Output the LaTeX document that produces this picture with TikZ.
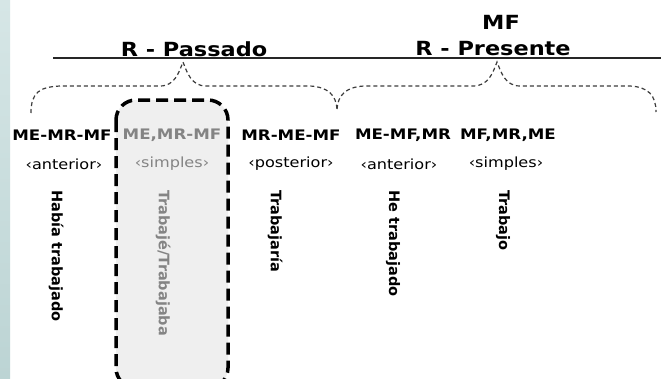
\documentclass[tikz,border=0pt]{standalone}
\usepackage{fontspec}
\newfontfamily\cfont[FakeStretch=1.15]{DejaVu Sans}
\newfontfamily\vfont{DejaVu Sans}
\definecolor{stripA}{RGB}{214,230,230}
\definecolor{stripB}{RGB}{188,212,212}
\definecolor{boxfill}{RGB}{239,239,239}
\definecolor{greytext}{RGB}{132,132,132}
\definecolor{bracecol}{RGB}{60,60,60}
\tikzset{
  title/.style={font=\cfont\bfseries\fontsize{19.5}{20}\selectfont, inner sep=0pt},
  order/.style={font=\cfont\bfseries\fontsize{14.5}{15}\selectfont, inner sep=0pt},
  kind/.style={font=\cfont\fontsize{14}{15}\selectfont, inner sep=0pt},
  verb/.style={font=\vfont\bfseries\fontsize{14.5}{15}\selectfont, inner sep=0pt, rotate=-90, anchor=west},
  faded/.style={text=greytext},
  brace/.style={draw=bracecol, line width=1.2pt, dash pattern=on 4pt off 3pt},
  focusbox/.style={draw=black, fill=boxfill, line width=3.5pt, dash pattern=on 12pt off 6pt, rounded corners=20pt}
}
\begin{document}
\begin{tikzpicture}[x=1pt,y=-1pt]
\useasboundingbox (0,0) rectangle (661,378);
\fill[white] (0,0) rectangle (661,378);
% slide background strip on the left
\shade[top color=stripA, bottom color=stripB] (0,0) rectangle (10,378);

% highlighted column
\begin{scope}
  \clip (0,0) rectangle (661,378);
  \draw[focusbox] (116,100) rectangle (228,388);
\end{scope}

% time line and reference points
\draw[line width=2pt, black!85] (53,58) -- (661,58);
\node[title] (rpass) at (194,49) {R - Passado};
\node[title] (mf) at (501,22) {MF};
\node[title] (rpres) at (493,49) {R - Presente};

% brace anchors
\coordinate (ltip) at (183,62);
\coordinate (lend) at (31,113);
\coordinate (mid) at (337,109);
\coordinate (rtip) at (497,62);
\coordinate (rend) at (656,112);

\draw[brace] (lend) .. controls (31,92) and (40,87) .. (60,86) -- (160,86)
  .. controls (175,86) and (179,72) .. (ltip)
  .. controls (187,72) and (191,86) .. (206,86) -- (310,86)
  .. controls (328,87) and (336,95) .. (mid);
\draw[brace] (mid) .. controls (338,95) and (346,87) .. (364,86) -- (473,86)
  .. controls (489,86) and (493,72) .. (rtip)
  .. controls (501,72) and (505,86) .. (520,86) -- (630,86)
  .. controls (648,87) and (656,95) .. (rend);

% orderings
\node[order] (o1) at (62,135) {ME-MR-MF};
\node[order, faded] (o2) at (172,135) {ME,MR-MF};
\node[order] (o3) at (291,135) {MR-ME-MF};
\node[order] (o4) at (403,135) {ME-MF,MR};
\node[order] (o5) at (508,135) {MF,MR,ME};

% tense kinds
\node[kind] (k1) at (64,164) {‹anterior›};
\node[kind, faded] (k2) at (172,164) {‹simples›};
\node[kind] (k3) at (291,164) {‹posterior›};
\node[kind] (k4) at (399,164) {‹anterior›};
\node[kind] (k5) at (506,164) {‹simples›};

% verb forms
\node[verb] (v1) at (56,190) {Había trabajado};
\node[verb, faded] (v2) at (163,190) {Trabajé/Trabajaba};
\node[verb] (v3) at (275,190) {Trabajaría};
\node[verb] (v4) at (393,190) {He trabajado};
\node[verb] (v5) at (503,190) {Trabajo};
\end{tikzpicture}
\end{document}
